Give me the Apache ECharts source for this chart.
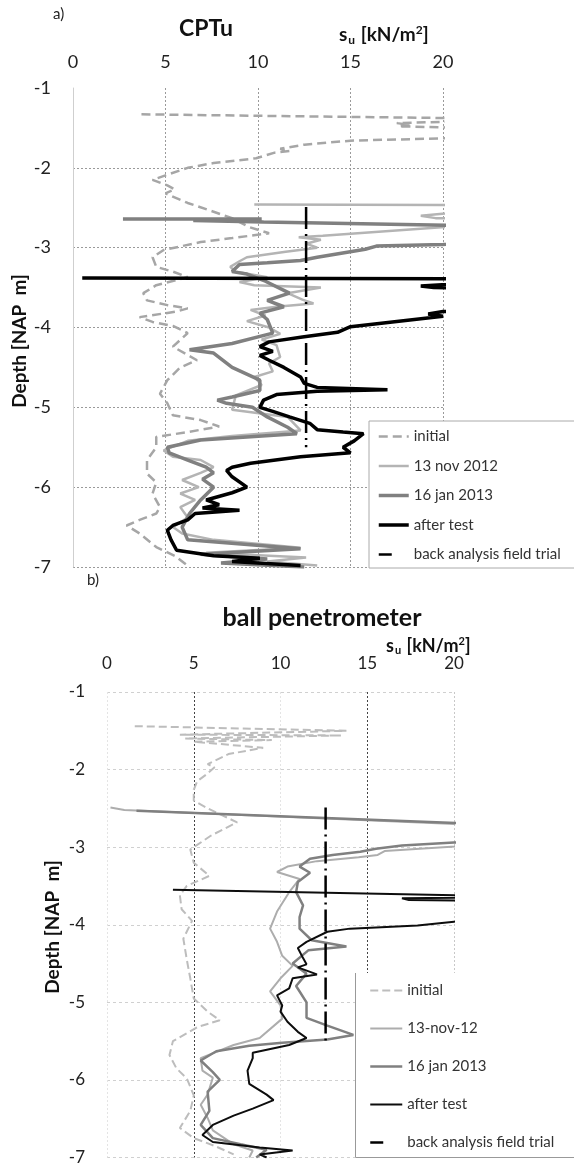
<!DOCTYPE html>
<html>
<head>
<meta charset="utf-8">
<script src="https://cdn.jsdelivr.net/npm/echarts@6/dist/echarts.min.js"></script>
<style>
html,body{margin:0;padding:0;background:#fff;}
#c{width:574px;height:1166px;}
</style>
</head>
<body>
<div id="c"></div>
<script>
// ---------- DATA (su [kN/m2], depth [NAP m]) ----------
const xTicks = [0, 5, 10, 15, 20];
const depthTicks = [-7, -6, -5, -4, -3, -2, -1];

// a) CPTu
const cptuInitial = [[3.7,-1.33],[25,-1.39],[17.5,-1.44],[18.2,-1.46],[17.6,-1.48],[25,-1.52],[25,-1.6],[20,-1.63],[15,-1.66],[12.5,-1.71],[11.2,-1.76],[11.7,-1.79],[10.9,-1.81],[9.9,-1.88],[7.6,-1.94],[6.2,-2.0],[4.3,-2.15],[5.1,-2.22],[5.5,-2.27],[5.0,-2.32],[6.2,-2.44],[7.6,-2.55],[8.6,-2.63],[9.5,-2.74],[10.6,-2.82],[8.6,-2.88],[6.9,-2.93],[4.9,-3.03],[4.3,-3.12],[4.5,-3.24],[5.4,-3.3],[6.2,-3.37],[4.5,-3.47],[3.8,-3.57],[4.0,-3.66],[5.1,-3.72],[6.2,-3.76],[5.6,-3.8],[3.6,-3.87],[4.3,-3.93],[5.4,-3.98],[6.2,-4.07],[5.4,-4.24],[6.7,-4.41],[5.8,-4.5],[5.1,-4.66],[4.7,-4.83],[5.1,-4.95],[5.4,-5.1],[6.9,-5.16],[7.9,-5.24],[6.2,-5.31],[4.5,-5.37],[4.5,-5.5],[4.0,-5.66],[4.0,-5.83],[4.5,-5.94],[4.3,-6.08],[4.7,-6.25],[4.5,-6.33],[3.6,-6.41],[2.9,-6.48],[3.6,-6.58],[4.5,-6.75],[5.5,-6.86],[6.3,-7.0]];
const cptuNov2012 = [[9.8,-2.46],[25,-2.47],[18.8,-2.6],[19.6,-2.63],[25,-2.66],[13.5,-2.85],[12.2,-2.87],[13.4,-2.9],[12.6,-2.95],[13.2,-3.0],[11.5,-3.05],[9.4,-3.12],[9.0,-3.17],[8.5,-3.24],[8.8,-3.3],[10.5,-3.37],[9.0,-3.43],[9.8,-3.47],[13.4,-3.5],[11.6,-3.57],[12.4,-3.65],[13.0,-3.7],[11.0,-3.74],[9.6,-3.78],[10.4,-3.85],[9.4,-3.92],[10.6,-4.0],[11.2,-4.08],[10.2,-4.15],[11.0,-4.22],[11.2,-4.37],[10.6,-4.45],[10.8,-4.55],[9.8,-4.62],[10.2,-4.72],[8.8,-4.85],[8.6,-5.03],[11.6,-5.12],[12.3,-5.29],[8.6,-5.36],[6.2,-5.42],[4.9,-5.54],[5.4,-5.62],[6.9,-5.66],[7.6,-5.75],[6.9,-5.82],[5.9,-5.91],[6.8,-6.0],[5.8,-6.08],[6.6,-6.16],[5.8,-6.25],[6.2,-6.38],[5.4,-6.5],[5.9,-6.58],[7.6,-6.66],[12.3,-6.76],[7.2,-6.82],[12.6,-6.88],[10.5,-6.93],[13.2,-6.98]];
const cptuJan2013 = [[2.7,-2.64],[10.2,-2.64],[6.5,-2.66],[10.3,-2.68],[25,-2.74],[25,-2.9],[20,-2.96],[16.4,-2.98],[15.8,-3.02],[13.2,-3.12],[12.3,-3.16],[10.5,-3.19],[9.0,-3.21],[8.6,-3.3],[9.4,-3.33],[10.4,-3.42],[11.7,-3.57],[10.5,-3.66],[11.4,-3.74],[10.1,-3.82],[10.5,-3.9],[10.8,-4.07],[8.6,-4.2],[6.3,-4.28],[7.6,-4.32],[8.6,-4.5],[10.1,-4.66],[10.1,-4.79],[8.6,-4.87],[7.8,-4.91],[8.3,-4.95],[9.7,-5.0],[10.5,-5.12],[11.6,-5.25],[12.1,-5.33],[6.9,-5.41],[5.1,-5.5],[5.2,-5.57],[6.2,-5.66],[7.2,-5.75],[7.6,-5.82],[7.0,-5.9],[7.6,-6.0],[6.9,-6.16],[6.3,-6.33],[5.9,-6.5],[6.2,-6.66],[12.3,-6.77],[6.9,-6.84],[10.5,-6.9],[8.0,-6.95],[12.5,-7.0]];
const cptuAfterTest = [[0.5,-3.38],[25,-3.39],[18.8,-3.48],[19.5,-3.5],[25,-3.52],[25,-3.75],[20,-3.8],[19.2,-3.83],[20,-3.86],[15,-3.99],[14.3,-4.06],[12.4,-4.12],[10.6,-4.18],[10.1,-4.24],[10.8,-4.3],[10.1,-4.35],[10.6,-4.41],[11.4,-4.5],[12.3,-4.62],[12.5,-4.7],[13.2,-4.75],[17.0,-4.78],[13.2,-4.8],[11.0,-4.84],[10.3,-4.91],[10.1,-5.0],[10.8,-5.05],[11.7,-5.12],[12.8,-5.2],[13.2,-5.28],[14.6,-5.31],[15.7,-5.33],[15.2,-5.42],[14.6,-5.5],[15.0,-5.57],[12.3,-5.62],[9.6,-5.7],[8.6,-5.75],[8.3,-5.79],[8.6,-5.87],[9.4,-6.0],[8.6,-6.07],[7.2,-6.16],[7.9,-6.22],[7.0,-6.26],[9.0,-6.29],[6.6,-6.33],[6.2,-6.41],[5.4,-6.48],[5.1,-6.54],[5.3,-6.66],[5.6,-6.79],[7.6,-6.86],[10.1,-6.89],[8.6,-6.93],[12.3,-6.98]];
const cptuBackAnalysis = [[12.6,-2.49],[12.6,-5.5]];

// b) ball penetrometer
const ballInitial = [[1.6,-1.44],[13.8,-1.5],[4.2,-1.55],[13.5,-1.56],[4.5,-1.6],[9.5,-1.62],[5.0,-1.64],[9.0,-1.72],[7.0,-1.8],[5.8,-1.93],[6.2,-1.97],[5.8,-2.05],[5.2,-2.15],[5.0,-2.26],[5.0,-2.4],[5.8,-2.5],[7.5,-2.68],[6.0,-2.85],[4.8,-3.03],[5.0,-3.2],[5.9,-3.37],[4.6,-3.5],[4.2,-3.62],[4.3,-3.8],[4.9,-3.95],[4.4,-4.18],[4.6,-4.45],[4.8,-4.69],[5.0,-4.95],[5.8,-5.12],[6.5,-5.23],[5.2,-5.32],[3.8,-5.5],[3.6,-5.68],[4.0,-5.85],[4.6,-5.98],[5.0,-6.2],[4.8,-6.4],[4.2,-6.62],[5.0,-6.75],[6.2,-6.85],[7.3,-6.96]];
const ballNov12 = [[0.2,-2.49],[1.0,-2.52],[2.0,-2.53],[25,-2.75],[25,-2.92],[16.0,-3.05],[15.6,-3.1],[14.5,-3.13],[12.1,-3.18],[10.4,-3.25],[9.8,-3.32],[11.1,-3.41],[10.5,-3.58],[9.8,-3.83],[9.4,-4.05],[9.8,-4.22],[10.1,-4.4],[10.7,-4.53],[10.0,-4.69],[9.4,-4.86],[10.0,-5.04],[10.1,-5.21],[8.8,-5.46],[7.3,-5.55],[5.4,-5.72],[5.5,-5.88],[6.1,-5.97],[5.8,-6.19],[5.4,-6.32],[5.8,-6.49],[6.1,-6.65],[7.3,-6.83],[8.4,-6.91],[8.2,-7.0]];
const ballJan2013 = [[1.7,-2.53],[25,-2.73],[25,-2.9],[20,-2.94],[17,-2.98],[15.5,-3.02],[14.6,-3.06],[13,-3.1],[11.7,-3.15],[11.1,-3.25],[11.7,-3.33],[11.0,-3.45],[10.9,-3.58],[11.3,-3.75],[11.1,-3.9],[11.1,-4.05],[11.8,-4.2],[13.8,-4.28],[11.6,-4.33],[10.7,-4.5],[11.5,-4.63],[10.9,-4.79],[11.5,-5.0],[11.5,-5.2],[12.7,-5.3],[14.2,-5.42],[12.7,-5.48],[10.1,-5.52],[8.2,-5.56],[6.3,-5.63],[5.4,-5.75],[6.1,-5.9],[6.5,-6.0],[5.8,-6.15],[5.9,-6.4],[5.4,-6.58],[6.1,-6.75],[7.7,-6.83],[9.2,-6.9],[8.6,-7.0]];
const ballAfterTest = [[3.8,-3.55],[25,-3.64],[17,-3.66],[17.4,-3.68],[25,-3.7],[25,-3.9],[20,-3.96],[17.9,-4.01],[14,-4.05],[12.7,-4.09],[11.5,-4.22],[11.0,-4.3],[11.3,-4.43],[11.5,-4.51],[11.0,-4.55],[12.1,-4.64],[10.7,-4.69],[10.5,-4.82],[9.8,-4.91],[10.1,-5.04],[10.0,-5.12],[10.4,-5.25],[11.0,-5.38],[11.5,-5.46],[10.5,-5.55],[8.4,-5.65],[8.4,-5.72],[8.1,-5.88],[8.2,-6.05],[9.2,-6.19],[9.6,-6.26],[8.4,-6.37],[7.3,-6.46],[6.1,-6.58],[5.5,-6.71],[6.1,-6.8],[8.8,-6.87],[10.7,-6.91],[8.8,-6.96],[9.2,-7.0]];
const ballBackAnalysis = [[12.6,-2.49],[12.6,-5.5]];

const namesA = ['initial', '13 nov 2012', '16 jan 2013', 'after test', 'back analysis field trial'];
const namesB = ['initial ', '13-nov-12', '16 jan 2013 ', 'after test ', 'back analysis field trial '];

// ---------- CHART ----------
const FONT = 'Lato, "Open Sans", sans-serif';
const chart = echarts.init(document.getElementById('c'), null, {renderer: 'canvas'});

const styleA = [
  {color: '#a6a6a6', width: 2.5, type: [9, 5]},
  {color: '#b4b4b4', width: 2.5, type: 'solid'},
  {color: '#808080', width: 3.5, type: 'solid'},
  {color: '#000000', width: 3.5, type: 'solid'},
  {color: '#000000', width: 2.5, type: [22, 5, 2, 5]}
];
const styleB = [
  {color: '#bdbdbd', width: 2, type: [8, 4]},
  {color: '#adadad', width: 2, type: 'solid'},
  {color: '#808080', width: 2.5, type: 'solid'},
  {color: '#0d0d0d', width: 2, type: 'solid'},
  {color: '#000000', width: 2.5, type: [22, 5, 2, 5]}
];

function line(name, data, xi, st, z) {
  return {
    name: name, type: 'line', xAxisIndex: xi, yAxisIndex: xi,
    data: data, symbol: 'none', smooth: false, clip: true, z: z,
    lineStyle: {color: st.color, width: st.width, type: st.type},
    itemStyle: {color: st.color},
    emphasis: {disabled: true}, animation: false
  };
}
function legendData(names, styles) {
  return names.map(function (n, i) {
    const st = styles[i];
    return {name: n, lineStyle: {color: st.color, width: st.width, type: i === 4 ? [13, 40] : st.type}};
  });
}

const noSymbol = {opacity: 0, borderWidth: 0};
const suRich = function (big, small) {
  return {
    a: {fontSize: big, fontWeight: 'bold', fontFamily: FONT},
    b: {fontSize: small, fontWeight: 'bold', fontFamily: FONT, verticalAlign: 'bottom', padding: [Math.round(big * 0.5), 1, 0, 1]},
    c: {fontSize: small, fontWeight: 'bold', fontFamily: FONT, verticalAlign: 'top', padding: [0, 0, Math.round(big * 0.45), 0]}
  };
};

const option = {
  animation: false,
  textStyle: {fontFamily: FONT},
  grid: [
    {left: 73, top: 88, width: 370, height: 479},
    {left: 107, top: 692, width: 347, height: 468}
  ],
  xAxis: [
    {gridIndex: 0, type: 'value', position: 'top', min: xTicks[0], max: xTicks[xTicks.length-1], interval: 5,
     axisLine: {show: false}, axisTick: {show: false},
     axisLabel: {fontSize: 18, color: '#222', margin: 17, fontFamily: FONT},
     splitLine: {show: true, showMinLine: false, lineStyle: {color: '#9a9a9a', type: [2, 2], width: 1}}},
    {gridIndex: 1, type: 'value', position: 'top', min: xTicks[0], max: xTicks[xTicks.length-1], interval: 5,
     axisLine: {show: false}, axisTick: {show: false},
     axisLabel: {fontSize: 17, color: '#222', margin: 20, fontFamily: FONT},
     splitLine: {show: true, showMinLine: true, lineStyle: {color: ['#e4e4e4', '#444', '#e4e4e4', '#444', '#c8c8c8'], type: [2, 2], width: 1}}}
  ],
  yAxis: [
    {gridIndex: 0, type: 'value', min: depthTicks[0], max: depthTicks[depthTicks.length-1], interval: 1,
     axisLine: {show: true, lineStyle: {color: '#cfcfcf', width: 1}}, axisTick: {show: false},
     axisLabel: {fontSize: 18, color: '#222', margin: 22, fontFamily: FONT},
     splitLine: {show: true, showMaxLine: false, lineStyle: {color: '#9a9a9a', type: [2, 2], width: 1}}},
    {gridIndex: 1, type: 'value', min: depthTicks[0], max: depthTicks[depthTicks.length-1], interval: 1,
     axisLine: {show: false}, axisTick: {show: false},
     axisLabel: {fontSize: 17, color: '#222', margin: 22, fontFamily: FONT},
     splitLine: {show: true, showMaxLine: true, lineStyle: {color: '#d0d0d0', type: [3, 3], width: 1}}}
  ],
  legend: [
    {orient: 'vertical', left: 369, top: 421, padding: [8, 40, 6, 8], itemWidth: 30, itemHeight: 14, itemGap: 14.5,
     borderColor: '#aaa', borderWidth: 1, backgroundColor: '#fff', selectedMode: false,
     itemStyle: noSymbol,
     textStyle: {fontSize: 15, color: '#333', fontFamily: FONT},
     data: legendData(namesA, styleA)},
    {orient: 'vertical', left: 355, top: 973, padding: [10, 40, 12, 14], itemWidth: 32, itemHeight: 14, itemGap: 23,
     borderWidth: 0, backgroundColor: '#fff', selectedMode: false,
     itemStyle: noSymbol,
     textStyle: {fontSize: 15, color: '#333', fontFamily: FONT},
     data: legendData(namesB, styleB)}
  ],
  graphic: [
    {type: 'text', left: 53, top: 7, style: {text: 'a)', fontSize: 15, fill: '#222', fontFamily: FONT}},
    {type: 'text', x: 206, y: 29, style: {text: 'CPTu', fontSize: 23, fontWeight: 'bold', fill: '#111', fontFamily: FONT, align: 'center', verticalAlign: 'middle'}},
    {type: 'text', x: 339, y: 35, style: {text: '{a|s}{b|u}{a| [kN/m}{c|2}{a|]}', fill: '#111', verticalAlign: 'middle', rich: suRich(19, 12)}},
    {type: 'text', x: 20, y: 341, rotation: Math.PI / 2, style: {text: 'Depth [NAP  m]', fontSize: 19, fontWeight: 'bold', fill: '#111', fontFamily: FONT, align: 'center', verticalAlign: 'middle'}},
    {type: 'text', left: 87, top: 573, style: {text: 'b)', fontSize: 15, fill: '#222', fontFamily: FONT}},
    {type: 'text', x: 322, y: 618, style: {text: 'ball penetrometer', fontSize: 25, fontWeight: 'bold', fill: '#111', fontFamily: FONT, align: 'center', verticalAlign: 'middle'}},
    {type: 'text', x: 386, y: 646, style: {text: '{a|s}{b|u}{a| [kN/m}{c|2}{a|]}', fill: '#111', verticalAlign: 'middle', rich: suRich(18, 11)}},
    {type: 'text', x: 53, y: 927, rotation: Math.PI / 2, style: {text: 'Depth [NAP  m]', fontSize: 19, fontWeight: 'bold', fill: '#111', fontFamily: FONT, align: 'center', verticalAlign: 'middle'}},
    {type: 'polyline', z: 100, shape: {points: [[355.5, 973], [355.5, 1157.5], [574, 1157.5]]}, style: {stroke: '#999', lineWidth: 1, fill: null}}
  ],
  series: [
    line(namesA[0], cptuInitial, 0, styleA[0], 2),
    line(namesA[1], cptuNov2012, 0, styleA[1], 3),
    line(namesA[2], cptuJan2013, 0, styleA[2], 4),
    line(namesA[3], cptuAfterTest, 0, styleA[3], 5),
    line(namesA[4], cptuBackAnalysis, 0, styleA[4], 6),
    line(namesB[0], ballInitial, 1, styleB[0], 2),
    line(namesB[1], ballNov12, 1, styleB[1], 3),
    line(namesB[2], ballJan2013, 1, styleB[2], 4),
    line(namesB[3], ballAfterTest, 1, styleB[3], 5),
    line(namesB[4], ballBackAnalysis, 1, styleB[4], 6)
  ]
};
chart.setOption(option);
</script>
</body>
</html>
